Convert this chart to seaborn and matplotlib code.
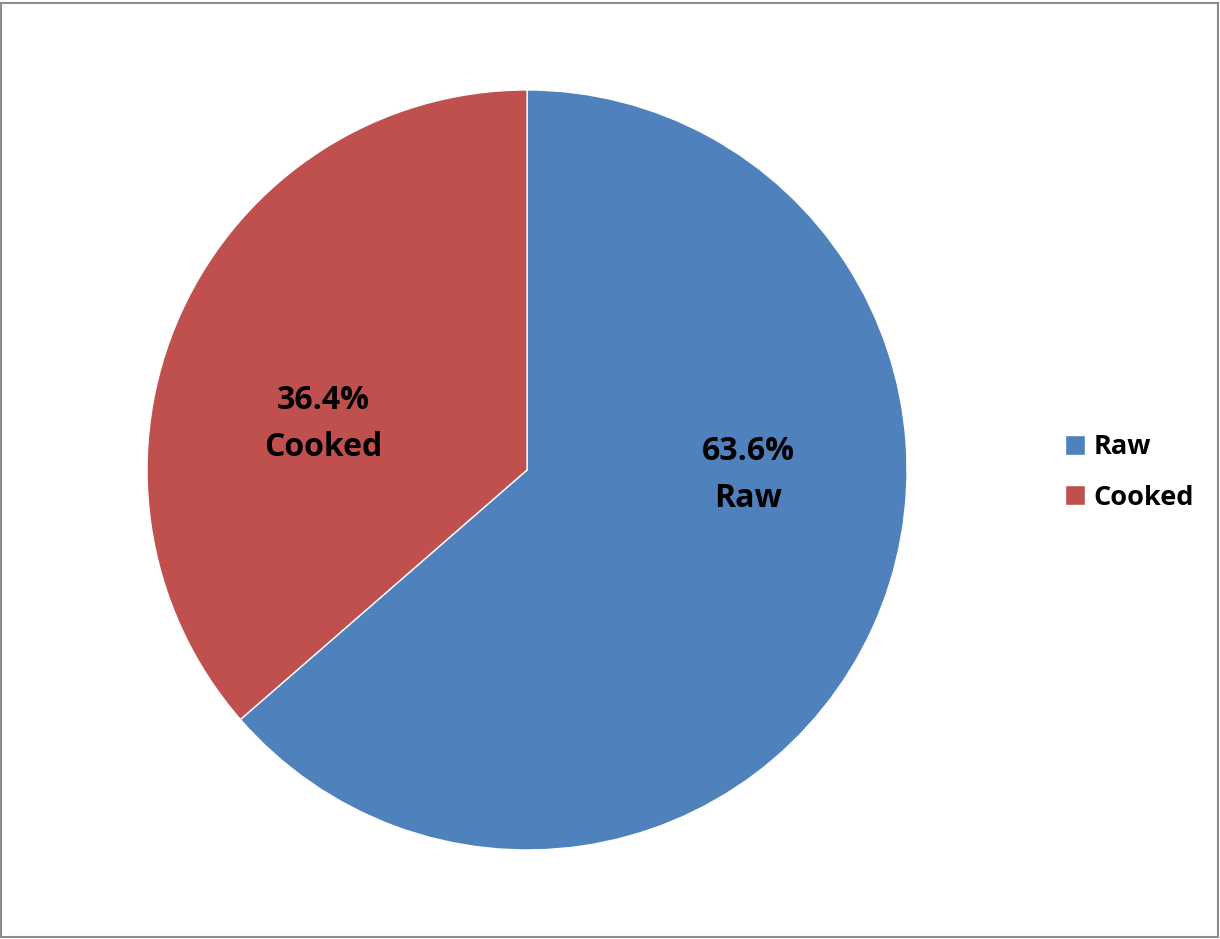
import matplotlib
matplotlib.use("Agg")
import matplotlib.pyplot as plt
import seaborn as sns
from matplotlib.patches import Rectangle

categories = ["Raw", "Cooked"]
values = [63.6, 36.4]
colors = ["#4F81BD", "#C0504D"]

sns.set_style("white")
plt.rcParams['font.family'] = ['Open Sans', 'DejaVu Sans']
plt.rcParams['text.color'] = 'black'

fig = plt.figure(figsize=(12.2, 9.39), dpi=100)
ax = fig.add_axes([0.1205, 0.0948, 0.623, 0.8094])
wedges, _ = ax.pie(values, colors=colors, startangle=90, counterclock=False,
                   radius=1.0, wedgeprops=dict(edgecolor="white", linewidth=1))
ax.set_xlim(-1, 1)
ax.set_ylim(-1, 1)
ax.set_aspect("equal")
ax.axis("off")

label_pos = [(0.582, -0.013), (-0.537, 0.121)]
for (x, y), cat, v in zip(label_pos, categories, values):
    ax.text(x, y, f"{v:.1f}%\n{cat}", ha="center", va="center",
            fontsize=23, fontweight="bold", color="black", linespacing=1.55)

leg = fig.legend(wedges, categories, loc="center left",
                 bbox_to_anchor=(0.873, 0.497), frameon=False,
                 prop=dict(size=19.5, weight="bold"), handlelength=0.75,
                 handleheight=0.75, labelspacing=0.9, handletextpad=0.3,
                 borderpad=0, borderaxespad=0, labelcolor="black")

fig.patches.append(Rectangle((0.001, 0.002), 0.997, 0.995, transform=fig.transFigure,
                             fill=False, edgecolor="#8c8c8c", linewidth=1.5))

fig.savefig("out.png", dpi=100)
